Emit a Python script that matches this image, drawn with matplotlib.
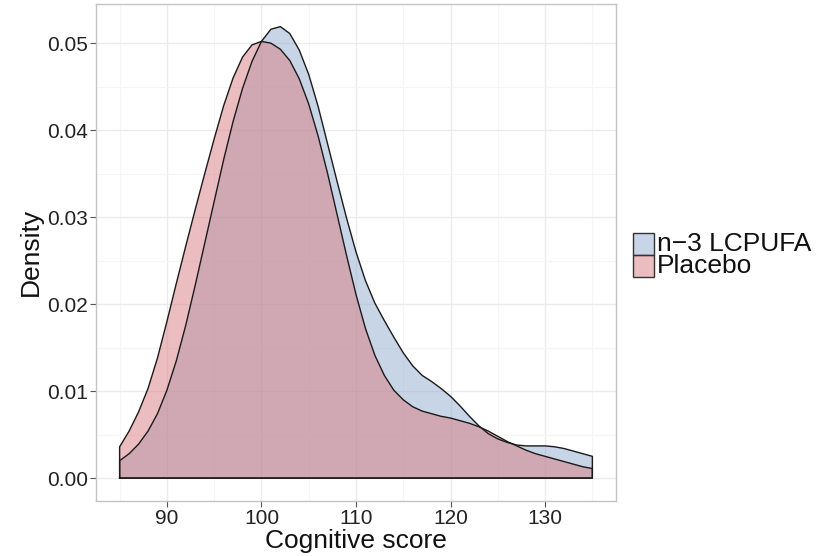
import numpy as np
import matplotlib
matplotlib.use("Agg")
import matplotlib.pyplot as plt
from matplotlib.patches import Rectangle
from matplotlib.ticker import MultipleLocator

plt.rcParams['font.family'] = ['Liberation Sans', 'DejaVu Sans']

# Kernel density estimates of cognitive score, read at every score point
score = np.arange(85, 136)

density_lcpufa = [
    0.0020, 0.0028, 0.0039, 0.0054, 0.0074, 0.0101, 0.0135, 0.0176, 0.0222, 0.0270,
    0.0318, 0.0366, 0.0410, 0.0448, 0.0479, 0.0502, 0.0516, 0.0519, 0.0511, 0.0492,
    0.0464, 0.0427, 0.0384, 0.0341, 0.0299, 0.0260, 0.0227, 0.0201, 0.0181, 0.0162,
    0.0144, 0.0129, 0.0118, 0.0111, 0.0103, 0.0094, 0.0083, 0.0071, 0.0060, 0.0051,
    0.0045, 0.0041, 0.0038, 0.0037, 0.0037, 0.0037, 0.0036, 0.0034, 0.0031, 0.0028,
    0.0025,
]

density_placebo = [
    0.0036, 0.0054, 0.0076, 0.0103, 0.0138, 0.0180, 0.0224, 0.0267, 0.0309, 0.0350,
    0.0390, 0.0428, 0.0460, 0.0484, 0.0498, 0.0502, 0.0500, 0.0493, 0.0480, 0.0459,
    0.0430, 0.0393, 0.0350, 0.0303, 0.0256, 0.0211, 0.0172, 0.0141, 0.0118, 0.0101,
    0.0090, 0.0082, 0.0077, 0.0074, 0.0071, 0.0069, 0.0066, 0.0063, 0.0059, 0.0054,
    0.0048, 0.0042, 0.0037, 0.0032, 0.0028, 0.0025, 0.0022, 0.0019, 0.0016, 0.0013,
    0.0011,
]

groups = ['n\u22123 LCPUFA', 'Placebo']
fills = ['#91ADD1', '#D97D83']
alpha = 0.5

x_ticks = [90, 100, 110, 120, 130]
y_ticks = [0.00, 0.01, 0.02, 0.03, 0.04, 0.05]

fig = plt.figure(figsize=(8.19, 5.56), dpi=100)
ax = fig.add_axes([96 / 819, 1 - 500.7 / 556, 520 / 819, 496.7 / 556])

for dens, col in zip([density_lcpufa, density_placebo], fills):
    xs = np.concatenate([[score[0]], score, [score[-1]]])
    ys = np.concatenate([[0.0], dens, [0.0]])
    ax.fill(xs, ys, facecolor=col, alpha=alpha, edgecolor='none', zorder=2)
    ax.plot(np.append(xs, xs[0]), np.append(ys, ys[0]), color='#1a1a1a',
            linewidth=1.0, zorder=3)

ax.set_xlim(82.5, 137.5)
ax.set_ylim(-0.0026, 0.0545)
ax.set_xticks(x_ticks)
ax.set_yticks(y_ticks)
ax.set_yticklabels([f'{v:.2f}' for v in y_ticks])
ax.xaxis.set_minor_locator(MultipleLocator(5))
ax.yaxis.set_minor_locator(MultipleLocator(0.005))

ax.grid(True, which='major', color='#EBEBEB', linewidth=1.0, zorder=0)
ax.grid(True, which='minor', color='#F5F5F5', linewidth=0.8, zorder=0)
ax.set_axisbelow(True)
for sp in ax.spines.values():
    sp.set_color('#C4C4C4')
    sp.set_linewidth(1.0)

ax.tick_params(which='major', length=4, width=0.8, color='#555555',
               labelsize=15, labelcolor='#222222', pad=2)
ax.tick_params(which='minor', length=0)

ax.set_xlabel('Cognitive score', fontsize=19, labelpad=1, color='#111111')
ax.set_ylabel('Density', fontsize=19, labelpad=3, color='#111111')

# legend keys and labels drawn to the right of the panel
key_x, key_w, key_h = 633, 21, 22
key_tops = [233, 255]
for top, col, lab in zip(key_tops, fills, groups):
    fig.patches.append(Rectangle((key_x / 819, 1 - (top + key_h) / 556),
                                 key_w / 819, key_h / 556,
                                 transform=fig.transFigure,
                                 facecolor=col, alpha=alpha, edgecolor='none'))
    fig.patches.append(Rectangle((key_x / 819, 1 - (top + key_h) / 556),
                                 key_w / 819, key_h / 556,
                                 transform=fig.transFigure,
                                 facecolor='none', edgecolor='#333333', linewidth=1.0))
    fig.text((key_x + key_w + 3) / 819, 1 - (top + key_h / 2) / 556, lab,
             fontsize=19, va='center', ha='left', color='#111111')

fig.savefig('out.png', dpi=100)
